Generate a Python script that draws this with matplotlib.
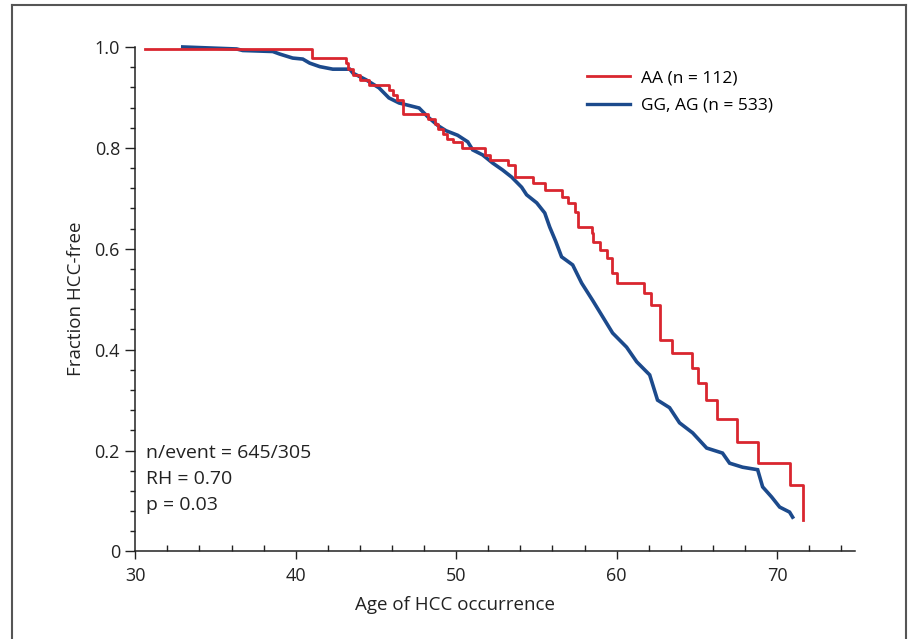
import matplotlib
matplotlib.use("Agg")
import matplotlib.pyplot as plt
from matplotlib.lines import Line2D
from matplotlib.ticker import MultipleLocator, FixedLocator

plt.rcParams['font.family'] = ['Open Sans', 'DejaVu Sans']

# AA (n = 112) Kaplan-Meier steps: age, fraction HCC-free after step
aa_age = [30.6, 41.04, 43.12, 43.27, 43.54, 44.0, 44.56, 45.80, 46.05, 46.30, 46.68,
          48.24, 48.67, 48.86, 49.18, 49.42, 49.79, 50.35, 51.78, 52.09, 53.21, 53.65,
          54.77, 55.52, 56.57, 56.95, 57.38, 57.57, 58.45, 58.51, 58.95, 59.38, 59.69,
          60.00, 61.68, 62.12, 62.68, 63.43, 64.68, 65.05, 65.55, 66.23, 67.48, 68.79,
          70.78, 71.60]
aa_surv = [0.995, 0.978, 0.968, 0.956, 0.944, 0.934, 0.925, 0.915, 0.905, 0.895, 0.867,
           0.857, 0.848, 0.838, 0.828, 0.818, 0.811, 0.799, 0.786, 0.776, 0.766, 0.742,
           0.730, 0.716, 0.702, 0.690, 0.673, 0.643, 0.631, 0.613, 0.597, 0.582, 0.552,
           0.532, 0.513, 0.489, 0.419, 0.393, 0.364, 0.334, 0.300, 0.263, 0.217, 0.175,
           0.132, 0.062]

# GG, AG (n = 533): read points along the (finely stepped) curve
gg_age = [32.96, 36.32, 36.70, 38.57, 39.00, 39.81, 40.44, 40.87, 41.50, 42.31, 43.37,
          43.57, 44.38, 45.19, 45.81, 46.44, 47.69, 48.25, 48.87, 49.37, 50.09, 50.72,
          51.03, 51.65, 52.27, 52.90, 53.46, 54.08, 54.39, 55.02, 55.52, 55.83, 56.20,
          56.57, 57.26, 57.82, 58.50, 59.25, 59.75, 60.62, 61.25, 62.06, 62.55, 63.30,
          63.92, 64.74, 65.61, 66.60, 67.04, 67.85, 68.79, 69.10, 69.66, 70.16, 70.78,
          70.97]
gg_surv = [1.000, 0.996, 0.993, 0.991, 0.986, 0.978, 0.976, 0.968, 0.961, 0.956, 0.956,
           0.948, 0.935, 0.919, 0.899, 0.889, 0.879, 0.861, 0.844, 0.834, 0.825, 0.812,
           0.796, 0.786, 0.770, 0.756, 0.742, 0.722, 0.707, 0.691, 0.671, 0.643, 0.615,
           0.584, 0.568, 0.532, 0.498, 0.459, 0.433, 0.405, 0.376, 0.350, 0.300, 0.285,
           0.255, 0.235, 0.205, 0.195, 0.175, 0.167, 0.162, 0.128, 0.108, 0.088, 0.078,
           0.068]

labels = ["AA (n = 112)", "GG, AG (n = 533)"]
stats_text = ["n/event = 645/305", "RH = 0.70", "p = 0.03"]
x_ticks = [30, 40, 50, 60, 70]
y_ticks = [0, 0.2, 0.4, 0.6, 0.8, 1.0]
y_ticklabels = ["0", "0.2", "0.4", "0.6", "0.8", "1.0"]

RED = "#d9262f"
BLUE = "#1c4a8c"
TXT = "#222222"

fig = plt.figure(figsize=(9.14, 6.39), dpi=100)
ax = fig.add_axes([0.148, 0.137, 0.7875, 0.7895])

ax.plot(gg_age, gg_surv, color=BLUE, lw=2.6, solid_joinstyle="miter",
        label=labels[1], clip_on=False, zorder=3)
ax.plot(aa_age, aa_surv, drawstyle="steps-post", color=RED, lw=2.0,
        label=labels[0], clip_on=False, zorder=4)

ax.set_xlim(30, 74.86)
ax.set_ylim(0, 1.0)
for s in ["top", "right"]:
    ax.spines[s].set_visible(False)
for s in ["left", "bottom"]:
    ax.spines[s].set_linewidth(1.1)
    ax.spines[s].set_color(TXT)

ax.xaxis.set_major_locator(FixedLocator(x_ticks))
ax.xaxis.set_minor_locator(MultipleLocator(2))
ax.set_yticks(y_ticks)
ax.set_yticklabels(y_ticklabels)
ax.yaxis.set_minor_locator(MultipleLocator(0.04))

ax.tick_params(axis="x", which="major", direction="out", length=6, width=1.0,
               labelsize=13, pad=5, colors=TXT)
ax.tick_params(axis="x", which="minor", direction="in", length=4, width=1.0, colors=TXT)
ax.tick_params(axis="y", which="major", direction="out", length=7, width=1.0,
               labelsize=13, pad=4, colors=TXT)
ax.tick_params(axis="y", which="minor", direction="out", length=3.5, width=1.0, colors=TXT)

ax.set_xlabel("Age of HCC occurrence", fontsize=13.5, color=TXT)
ax.xaxis.set_label_coords(0.444, -0.088)
ax.set_ylabel("Fraction HCC-free", fontsize=13.5, color=TXT)
ax.yaxis.set_label_coords(-0.070, 0.5)

handles = [Line2D([], [], color=RED, lw=2.0), Line2D([], [], color=BLUE, lw=2.4)]
ax.legend(handles, labels, loc="upper left", bbox_to_anchor=(0.618, 0.968),
          frameon=False, fontsize=12.5, handlelength=2.5, handletextpad=0.6,
          labelspacing=0.65, borderaxespad=0)

for i, t in enumerate(stats_text):
    ax.text(0.015, 0.195 - i * 0.051, t, transform=ax.transAxes, fontsize=14,
            va="center", ha="left", color=TXT)

# outer frame (figure border)
W, H = 914, 639
frame_col = "#555555"
fig.add_artist(Line2D([12 / W, 12 / W], [0, 1 - 5 / H], color=frame_col, lw=1.5,
                      transform=fig.transFigure))
fig.add_artist(Line2D([12 / W, 906 / W], [1 - 5 / H, 1 - 5 / H], color=frame_col, lw=1.5,
                      transform=fig.transFigure))
fig.add_artist(Line2D([906 / W, 906 / W], [0, 1 - 5 / H], color=frame_col, lw=1.5,
                      transform=fig.transFigure))

fig.savefig("out.png", dpi=100)
